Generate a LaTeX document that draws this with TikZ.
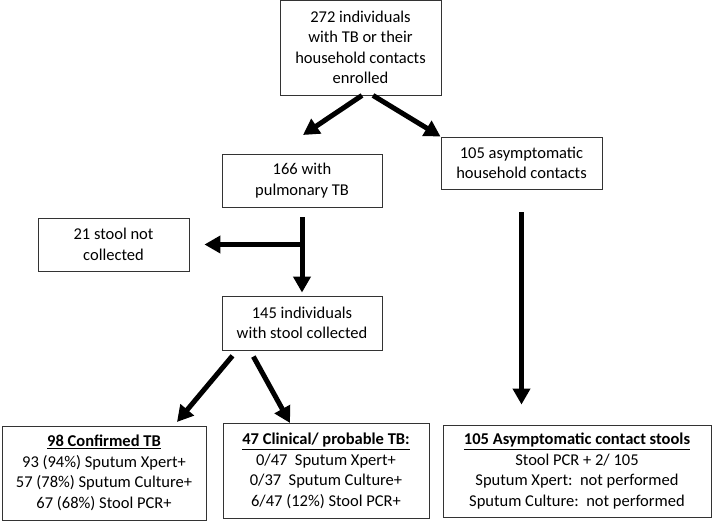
\documentclass[tikz,border=0pt]{standalone}
\usepackage{fontspec}
\setmainfont{Carlito}
\usetikzlibrary{arrows.meta}
\begin{document}
\begin{tikzpicture}[x=1pt,y=-1pt]
\tikzstyle{box}=[draw=black!80,line width=0.9pt,align=center,inner sep=2pt,font=\fontsize{16.5}{20.5}\selectfont]
\tikzstyle{link}=[line width=5pt,-{Triangle[length=16pt,width=17pt]}]
\useasboundingbox (0,0) rectangle (716,521);
\node[box,minimum width=161pt,minimum height=95pt] (E) at (360.5,47.5) {272 individuals\\with TB or their\\household contacts\\enrolled};
\node[box,minimum width=160pt,minimum height=53pt] (P) at (302,180.5) {166 with\\pulmonary TB};
\node[box,minimum width=161pt,minimum height=52pt] (A) at (521.5,163) {105 asymptomatic\\household contacts};
\node[box,minimum width=151pt,minimum height=53pt] (N) at (113.5,244.5) {21 stool not\\collected};
\node[box,minimum width=160pt,minimum height=54pt] (S) at (302,323) {145 individuals\\with stool collected};
\node[box,minimum width=204pt,minimum height=94pt] (C) at (104,473) {\underline{\textbf{98 Confirmed TB}}\\93 (94\%) Sputum Xpert+\\57 (78\%) Sputum Culture+\\67 (68\%) Stool PCR+};
\node[box,minimum width=206pt,minimum height=95pt] (L) at (326,471) {\underline{\textbf{47 Clinical/ probable TB:}}\\0/47\ \ Sputum Xpert+\\0/37\ \ Sputum Culture+\\6/47 (12\%) Stool PCR+};
\node[box,minimum width=268pt,minimum height=92pt] (K) at (577,471) {\underline{\textbf{105 Asymptomatic contact stools}}\\Stool PCR + 2/ 105\\Sputum Xpert:\ \ not performed\\Sputum Culture:\ \ not performed};
\coordinate (Pt) at (303,135);
\coordinate (Ct) at (177,422);
\coordinate (Lt) at (290,423);
\draw[link] ([xshift=1.5pt]E.south) -- (Pt);
\draw[link] ([xshift=12.5pt]E.south) -- (A.north west);
\draw[link,shorten <=10pt,shorten >=3pt] (P) -- (S);
\draw[link,shorten >=15pt] (P.south |- N.east) -- (N.east);
\draw[link,shorten <=7pt] ([xshift=-65pt]S.south) -- (Ct);
\draw[link,shorten <=7pt] ([xshift=-52pt]S.south) -- (Lt);
\draw[link,shorten <=23pt,shorten >=20pt] (A.south) -- (A.south |- K.north);
\end{tikzpicture}
\end{document}
